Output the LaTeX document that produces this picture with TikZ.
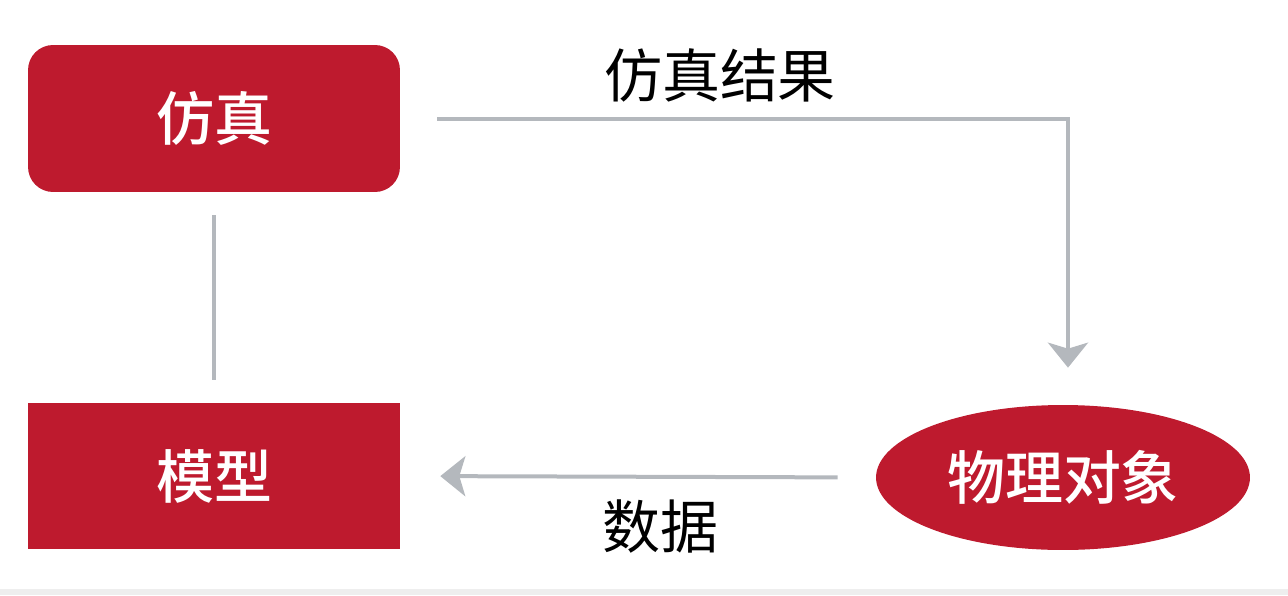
\documentclass[tikz,border=0pt]{standalone}
\usepackage{fontspec}
\newfontfamily\cjk{Noto Sans CJK SC}
\newfontfamily\cjkmid{Noto Sans CJK SC Medium}
\usepackage{tikz}
\usetikzlibrary{arrows.meta,shapes.geometric}
\definecolor{boxred}{HTML}{BE1A2E}
\definecolor{linegray}{HTML}{B4B8BD}
\definecolor{stripgray}{HTML}{EEEEEE}

\begin{document}
\begin{tikzpicture}[x = 0.02cm,y = -0.02cm]
		\tikzset{> = {Stealth[length = 0.5cm,width = 0.8cm,inset = 0.12cm]}}
		\tikzset{box/.style = {fill = boxred,text = white,minimum width = 7.44cm,minimum height = 2.94cm,inner sep = 0pt,font = \cjkmid\fontsize{33}{40}\selectfont}}
		\tikzset{link/.style = {linegray,line width = 0.08cm}}
		\tikzset{tag/.style = {text = black,inner sep = 0pt,font = \cjk\fontsize{33}{40}\selectfont}}
		\useasboundingbox (0,0) rectangle (1288,595);
		\fill[stripgray] (0,589) rectangle (1288,595);
		\node[box,rounded corners = 0.5cm] (S) at (214,118.5){仿真};
		\node[box] (M) at (214,476){模型};
		\node[box,ellipse,minimum width = 7.48cm,minimum height = 2.9cm] (P) at (1063,477.5){物理对象};
		\draw[link,shorten <= 0.46cm,shorten >= 0.44cm] (S) -- (M);
		\draw[link,->,shorten <= 0.74cm,shorten >= 0.74cm] (S.east) -| ([xshift = 0.1cm]P.north);
		\draw[link,->,shorten <= 0.76cm,shorten >= 0.8cm] (P.west) -- (M.east);
		\node[tag] (R) at (720,75){仿真结果};
		\node[tag] (D) at (660,527){数据};
	\end{tikzpicture}
\end{document}
